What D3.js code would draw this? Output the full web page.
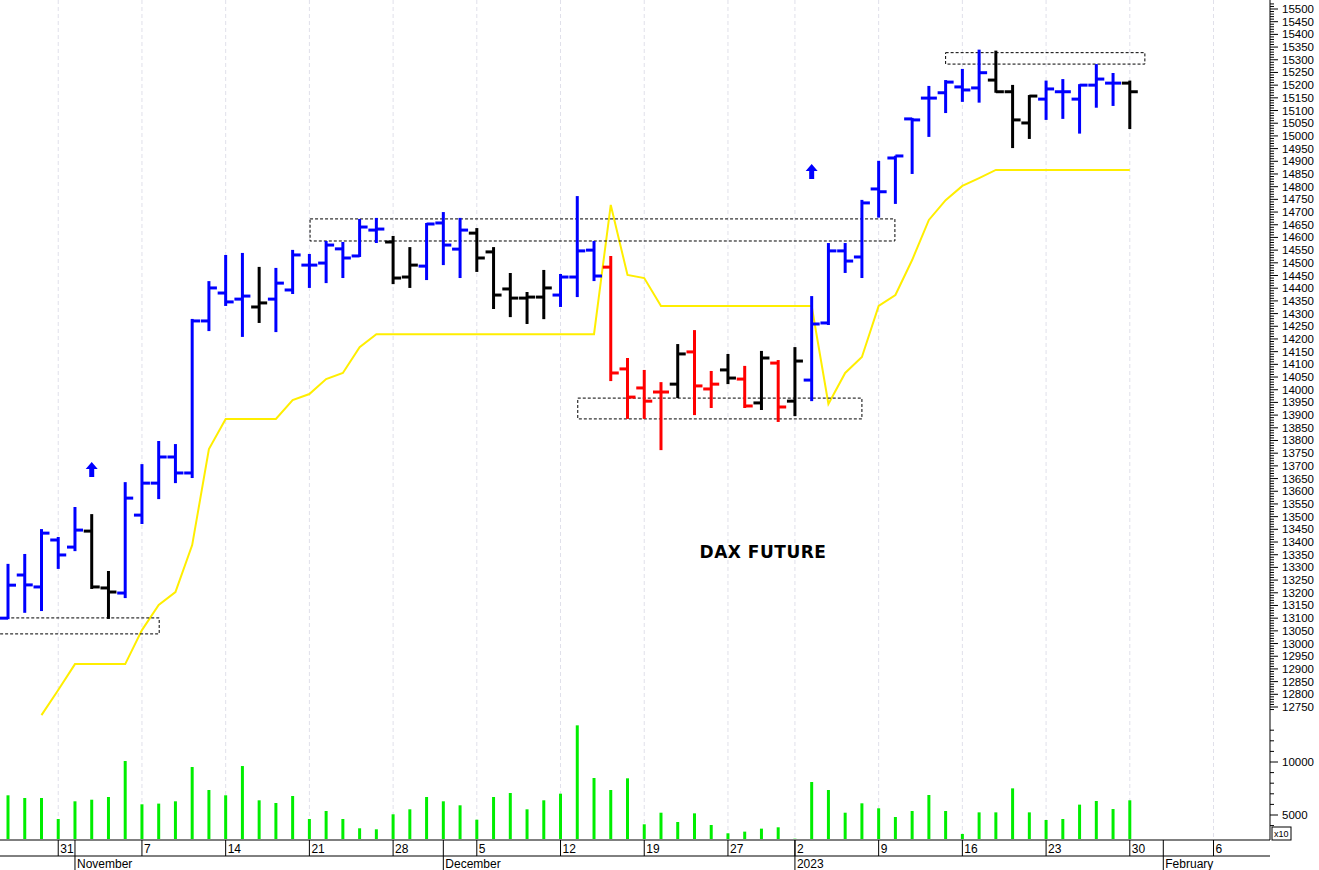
<!DOCTYPE html>
<html><head><meta charset="utf-8">
<script src="https://cdn.jsdelivr.net/npm/d3@7"></script>
<style>body{margin:0;background:#fff}svg{display:block}</style>
</head><body>
<svg id="c" width="1319" height="870"></svg>
<script>
const dates=["10-26","10-27","10-28","10-31","11-01","11-02","11-03","11-04","11-07","11-08","11-09","11-10","11-11","11-14","11-15","11-16","11-17","11-18","11-21","11-22","11-23","11-24","11-25","11-28","11-29","11-30","12-01","12-02","12-05","12-06","12-07","12-08","12-09","12-12","12-13","12-14","12-15","12-16","12-19","12-20","12-21","12-22","12-23","12-27","12-28","12-29","12-30","01-02","01-03","01-04","01-05","01-06","01-09","01-10","01-11","01-12","01-13","01-16","01-17","01-18","01-19","01-20","01-23","01-24","01-25","01-26","01-27","01-30"];
const open=[13100,13270,13223,13408,13380,13443,13219,13199,13506,13632,13735,13672,14271,14381,14357,14326,14357,14393,14491,14499,14555,14527,14629,14582,14444,14487,14657,14554,14617,14543,14397,14361,14365,14373,14444,14550,14483,14082,14007,13991,14022,14149,14003,14078,14042,13948,14105,13955,14038,14263,14547,14523,14791,14913,15067,15149,15170,15193,15189,15220,15174,15051,15145,15174,15145,15200,15208,15208];
const high=[13310,13349,13447,13416,13534,13506,13282,13632,13703,13794,13782,14275,14424,14527,14535,14480,14476,14547,14531,14582,14578,14669,14673,14602,14558,14653,14696,14673,14633,14558,14456,14381,14468,14452,14759,14582,14523,14121,14074,14026,14176,14231,14070,14137,14090,14149,14113,14164,14365,14574,14574,14744,14898,14918,15067,15193,15216,15260,15336,15332,15197,15157,15214,15220,15200,15279,15244,15214];
const low=[13100,13125,13132,13298,13368,13219,13101,13183,13475,13573,13636,13656,14235,14334,14212,14267,14231,14381,14405,14424,14444,14527,14582,14420,14405,14436,14495,14444,14468,14322,14290,14263,14282,14330,14369,14432,14038,13889,13889,13766,13971,13904,13932,14026,13932,13924,13877,13900,13959,14259,14464,14444,14682,14736,14854,15000,15094,15138,15135,15174,14956,14992,15067,15071,15013,15115,15122,15031];
const close=[13230,13231,13435,13349,13447,13223,13203,13573,13632,13735,13672,14271,14401,14346,14369,14342,14420,14531,14491,14570,14519,14641,14633,14440,14491,14653,14570,14629,14519,14373,14361,14365,14401,14444,14547,14448,14066,13971,13955,13991,14141,14015,14022,14046,13936,14125,13932,14113,14259,14547,14507,14736,14780,14921,15063,15149,15212,15181,15249,15174,15063,15157,15185,15174,15200,15224,15208,15174];
const barColor="bbbbbkkbbbbbbbbkbbbbbbbkkbbbkkkkkbbbrrrrkrrkrkrkbbbbbbbbbbbkkkbbbbbk".split("");
const stopLine=[null,null,12718,12817,12919,12919,12919,12919,13053,13152,13203,13388,13766,13885,13885,13885,13885,13959,13983,14042,14066,14168,14219,14219,14219,14219,14219,14219,14219,14219,14219,14219,14219,14219,14219,14219,14728,14452,14440,14330,14330,14330,14330,14330,14330,14330,14330,14330,14330,13944,14066,14129,14330,14373,14511,14669,14747,14803,14834,14866,14866,14866,14866,14866,14866,14866,14866,14866];
const volume=[6858,6603,6603,4623,6292,6443,6697,10092,6009,6075,6292,9526,7357,6858,9620,6386,6132,6792,4623,5377,4623,3746,3651,5066,5537,6697,6292,5915,4557,6697,7075,5537,6386,7012,13459,8489,7357,8461,4123,5217,4340,5157,4057,3274,3431,3714,3840,2765,8112,7357,5217,6103,5632,4812,5377,6886,5377,3211,5249,5249,7514,5249,4528,4623,5978,6320,5563,6386];
const dayTicks=[[3,"31"],[8,"7"],[13,"14"],[18,"21"],[23,"28"],[28,"5"],[33,"12"],[38,"19"],[43,"27"],[47,"2"],[52,"9"],[57,"16"],[62,"23"],[67,"30"],[72,"6"]];
const monthTicks=[[4,"November"],[26,"December"],[47,"2023"],[69,"February"]];
const boxes=[[-1,9.03,13101,13038],[18.04,52.97,14673,14586],[34.03,51.0,13967,13885],[56.0,67.9,15328,15283]];
const arrows=[[5,13684],[48,14858]];

const svg=d3.select("#c");
const x=d3.scaleLinear().domain([0,67]).range([8,1129.8]);
const y=d3.scaleLinear().domain([12750,15500]).range([707,9]);
const yv=d3.scaleLinear().domain([5000,10000]).range([815,762]);
const col={b:"#0000ff",k:"#000000",r:"#ff0000"};
const axX=1270;

svg.append("g").selectAll("line").data(dayTicks).join("line")
 .attr("x1",d=>x(d[0])).attr("x2",d=>x(d[0])).attr("y1",0).attr("y2",840)
 .attr("stroke","#e0e0ea").attr("stroke-dasharray","4,3");

svg.append("g").selectAll("line").data(volume).join("line")
 .attr("x1",(d,i)=>x(i)).attr("x2",(d,i)=>x(i)).attr("y1",839).attr("y2",d=>yv(d))
 .attr("stroke","#00ee00").attr("stroke-width",3);

svg.append("path").datum(stopLine.map((v,i)=>[i,v]).filter(d=>d[1]!=null))
 .attr("d",d3.line().x(d=>x(d[0])).y(d=>y(d[1])))
 .attr("fill","none").attr("stroke","#ffee00").attr("stroke-width",2);

svg.append("g").selectAll("rect").data(boxes).join("rect")
 .attr("x",d=>x(d[0])).attr("width",d=>x(d[1])-x(d[0]))
 .attr("y",d=>y(d[2])).attr("height",d=>y(d[3])-y(d[2]))
 .attr("fill","none").attr("stroke","#000").attr("stroke-width",1).attr("stroke-dasharray","3,2");

const g=svg.append("g").attr("stroke-width",3);
dates.forEach((dt,i)=>{
  const c=col[barColor[i]],xi=x(i);
  g.append("line").attr("x1",xi).attr("x2",xi).attr("y1",y(high[i])-1).attr("y2",y(low[i])+1).attr("stroke",c);
  g.append("line").attr("x1",xi-8).attr("x2",xi).attr("y1",y(open[i])).attr("y2",y(open[i])).attr("stroke",c);
  g.append("line").attr("x1",xi).attr("x2",xi+8).attr("y1",y(close[i])).attr("y2",y(close[i])).attr("stroke",c);
});

arrows.forEach(a=>{
  const ax=x(a[0]),ay=y(a[1]);
  svg.append("path").attr("d",`M${ax},${ay-8} L${ax+6},${ay-1} L${ax+2.5},${ay-1} L${ax+2.5},${ay+7} L${ax-2.5},${ay+7} L${ax-2.5},${ay-1} L${ax-6},${ay-1} Z`).attr("fill","#0000ff");
});

svg.append("text").attr("x",763).attr("y",558).attr("text-anchor","middle")
 .attr("font-family","DejaVu Sans, Verdana").attr("font-weight","bold").attr("font-size",17).attr("letter-spacing",0.5).text("DAX FUTURE");

const pa=svg.append("g").attr("font-family","Liberation Sans, Arial").attr("font-size",11.5);
pa.append("line").attr("x1",axX).attr("x2",axX).attr("y1",0).attr("y2",840).attr("stroke","#000");
d3.range(12740,15530,10).forEach(v=>{
  const major=v%50===0;
  pa.append("line").attr("x1",axX).attr("x2",axX+(major?8:4)).attr("y1",y(v)).attr("y2",y(v)).attr("stroke","#000");
  if(major&&v>=12750&&v<=15500) pa.append("text").attr("x",axX+12).attr("y",y(v)+4).text(v);
});
d3.range(3000,14001,1000).forEach(v=>{
  if(yv(v)<722||yv(v)>832)return;
  const major=v%5000===0;
  pa.append("line").attr("x1",axX).attr("x2",axX+(major?8:4)).attr("y1",yv(v)).attr("y2",yv(v)).attr("stroke","#000");
  if(major) pa.append("text").attr("x",axX+12).attr("y",yv(v)+4).text(v);
});
pa.append("rect").attr("x",axX+2).attr("y",827).attr("width",19).attr("height",13).attr("fill","#fff").attr("stroke","#000");
pa.append("text").attr("x",axX+4).attr("y",837).attr("font-size",9).text("x10");

const ta=svg.append("g").attr("font-family","Liberation Sans, Arial").attr("font-size",12);
ta.append("line").attr("x1",0).attr("x2",axX).attr("y1",840).attr("y2",840).attr("stroke","#000");
ta.append("line").attr("x1",0).attr("x2",axX).attr("y1",856).attr("y2",856).attr("stroke","#000");
dayTicks.forEach(d=>{
  ta.append("line").attr("x1",x(d[0])).attr("x2",x(d[0])).attr("y1",840).attr("y2",856).attr("stroke","#000");
  ta.append("text").attr("x",x(d[0])+2).attr("y",853).text(d[1]);
});
monthTicks.forEach(d=>{
  ta.append("line").attr("x1",x(d[0])).attr("x2",x(d[0])).attr("y1",840).attr("y2",870).attr("stroke","#000");
  ta.append("text").attr("x",x(d[0])+2).attr("y",868).text(d[1]);
});
</script>
</body></html>
